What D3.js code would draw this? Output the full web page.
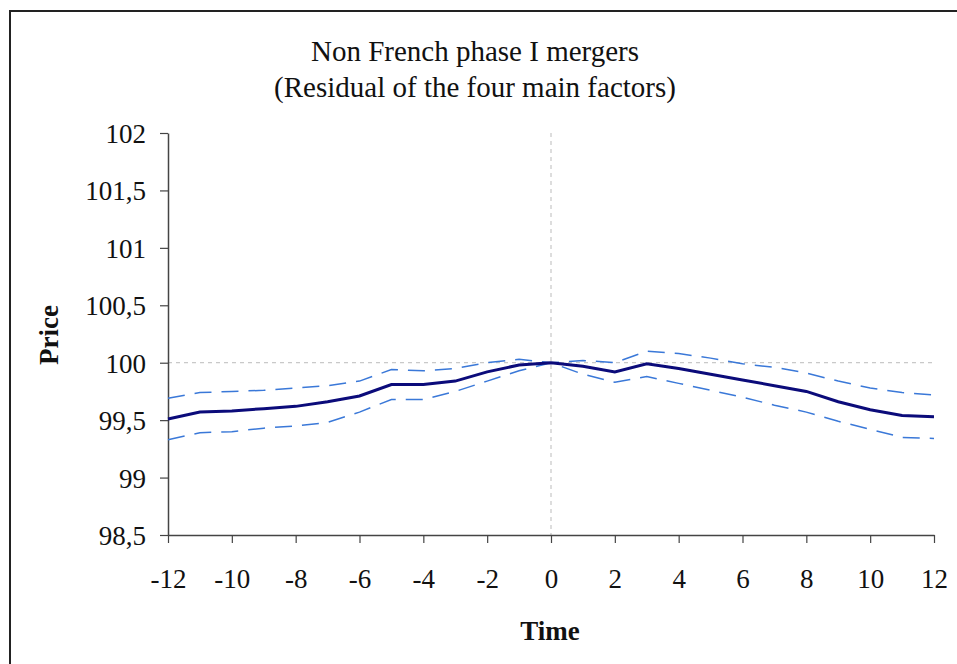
<!DOCTYPE html>
<meta charset="utf-8" />
<script src="https://d3js.org/d3.v7.min.js"></script>
<body style="margin:0;background:#fff">
  <div id="chart"></div>
  <script>
    // data
    const time = [-12, -11, -10, -9, -8, -7, -6, -5, -4, -3, -2, -1, 0, 1, 2, 3, 4, 5, 6, 7, 8, 9, 10, 11, 12];
    const price = [99.51, 99.57, 99.58, 99.60, 99.62, 99.66, 99.71, 99.81, 99.81, 99.84, 99.92, 99.98, 100,
      99.97, 99.92, 99.99, 99.95, 99.90, 99.85, 99.80, 99.75, 99.66, 99.59, 99.54, 99.53];
    const upper = [99.69, 99.74, 99.75, 99.76, 99.78, 99.80, 99.84, 99.94, 99.93, 99.95, 100.00, 100.03, 100,
      100.02, 100.00, 100.10, 100.08, 100.04, 99.99, 99.96, 99.91, 99.84, 99.78, 99.74, 99.72];
    const lower = [99.33, 99.39, 99.40, 99.43, 99.45, 99.48, 99.57, 99.68, 99.68, 99.75, 99.84, 99.93, 100,
      99.90, 99.83, 99.88, 99.82, 99.76, 99.70, 99.63, 99.57, 99.49, 99.42, 99.35, 99.34];
    const xTicks = [-12, -10, -8, -6, -4, -2, 0, 2, 4, 6, 8, 10, 12];
    const yTicks = [98.5, 99, 99.5, 100, 100.5, 101, 101.5, 102];

    const W = 957, H = 664;
    const margin = { top: 133, right: 23, bottom: 129, left: 168 };
    const width = W - margin.left - margin.right,
      height = H - margin.top - margin.bottom;
    const serif = "'Liberation Serif', 'Times New Roman', serif";

    const svg = d3.select("#chart").append("svg")
      .attr("width", W).attr("height", H);

    // outer frame
    svg.append("rect")
      .attr("x", 10).attr("y", 11)
      .attr("width", W).attr("height", H)
      .attr("fill", "none").attr("stroke", "#222").attr("stroke-width", 2);

    const g = svg.append("g")
      .attr("transform", "translate(" + margin.left + "," + margin.top + ")");

    const x = d3.scaleLinear().domain([-12, 12]).range([0, width]);
    const y = d3.scaleLinear().domain([98.5, 102]).range([height, 0]);

    // reference lines
    g.append("line")
      .attr("x1", 0).attr("x2", width)
      .attr("y1", y(100)).attr("y2", y(100))
      .attr("stroke", "#bbb").attr("stroke-dasharray", "4,4");
    g.append("line")
      .attr("x1", x(0)).attr("x2", x(0))
      .attr("y1", 0).attr("y2", height)
      .attr("stroke", "#bbb").attr("stroke-dasharray", "4,4");

    // axes
    const xAxis = g.append("g")
      .attr("transform", "translate(0," + height + ")")
      .call(d3.axisBottom(x).tickValues(xTicks).tickSize(8).tickSizeOuter(0)
        .tickFormat(d => String(d)));
    const yAxis = g.append("g")
      .call(d3.axisLeft(y).tickValues(yTicks).tickSize(8).tickSizeOuter(0)
        .tickFormat(d => String(d).replace(".", ",")));
    [xAxis, yAxis].forEach(a => {
      a.attr("font-size", null).attr("font-family", null);
      a.select(".domain").attr("stroke", "#444").attr("stroke-width", 1.5);
      a.selectAll(".tick line").attr("stroke", "#444").attr("stroke-width", 1.2);
      a.selectAll("text").attr("fill", "#111")
        .style("font-family", serif).style("font-size", "27px");
    });
    xAxis.selectAll(".tick line").attr("y1", 0).attr("y2", 8);
    xAxis.selectAll("text").attr("y", 0).attr("dy", "1.95em");
    yAxis.selectAll(".tick line").attr("x1", -8).attr("x2", 0);
    yAxis.selectAll("text").attr("x", -22).attr("dy", "0.35em");

    // series
    const line = d3.line()
      .x((d, i) => x(time[i]))
      .y(d => y(d));

    g.append("path").datum(upper)
      .attr("d", line).attr("fill", "none")
      .attr("stroke", "#3a78d8").attr("stroke-width", 1.5)
      .attr("stroke-dasharray", "17,10");
    g.append("path").datum(lower)
      .attr("d", line).attr("fill", "none")
      .attr("stroke", "#3a78d8").attr("stroke-width", 1.5)
      .attr("stroke-dasharray", "17,10");
    g.append("path").datum(price)
      .attr("d", line).attr("fill", "none")
      .attr("stroke", "#0b0b7a").attr("stroke-width", 3);

    // titles
    svg.append("text")
      .attr("x", 475).attr("y", 61)
      .attr("text-anchor", "middle")
      .style("font-family", serif).style("font-size", "29px").attr("fill", "#111")
      .text("Non French phase I mergers");
    svg.append("text")
      .attr("x", 475).attr("y", 97)
      .attr("text-anchor", "middle")
      .style("font-family", serif).style("font-size", "29px").attr("fill", "#111")
      .text("(Residual of the four main factors)");

    svg.append("text")
      .attr("transform", "translate(58," + 335 + ")rotate(-90)")
      .attr("text-anchor", "middle")
      .style("font-family", serif).style("font-size", "27px").style("font-weight", "bold")
      .attr("fill", "#111")
      .text("Price");
    svg.append("text")
      .attr("x", 550).attr("y", 640)
      .attr("text-anchor", "middle")
      .style("font-family", serif).style("font-size", "27px").style("font-weight", "bold")
      .attr("fill", "#111")
      .text("Time");
  </script>
</body>
